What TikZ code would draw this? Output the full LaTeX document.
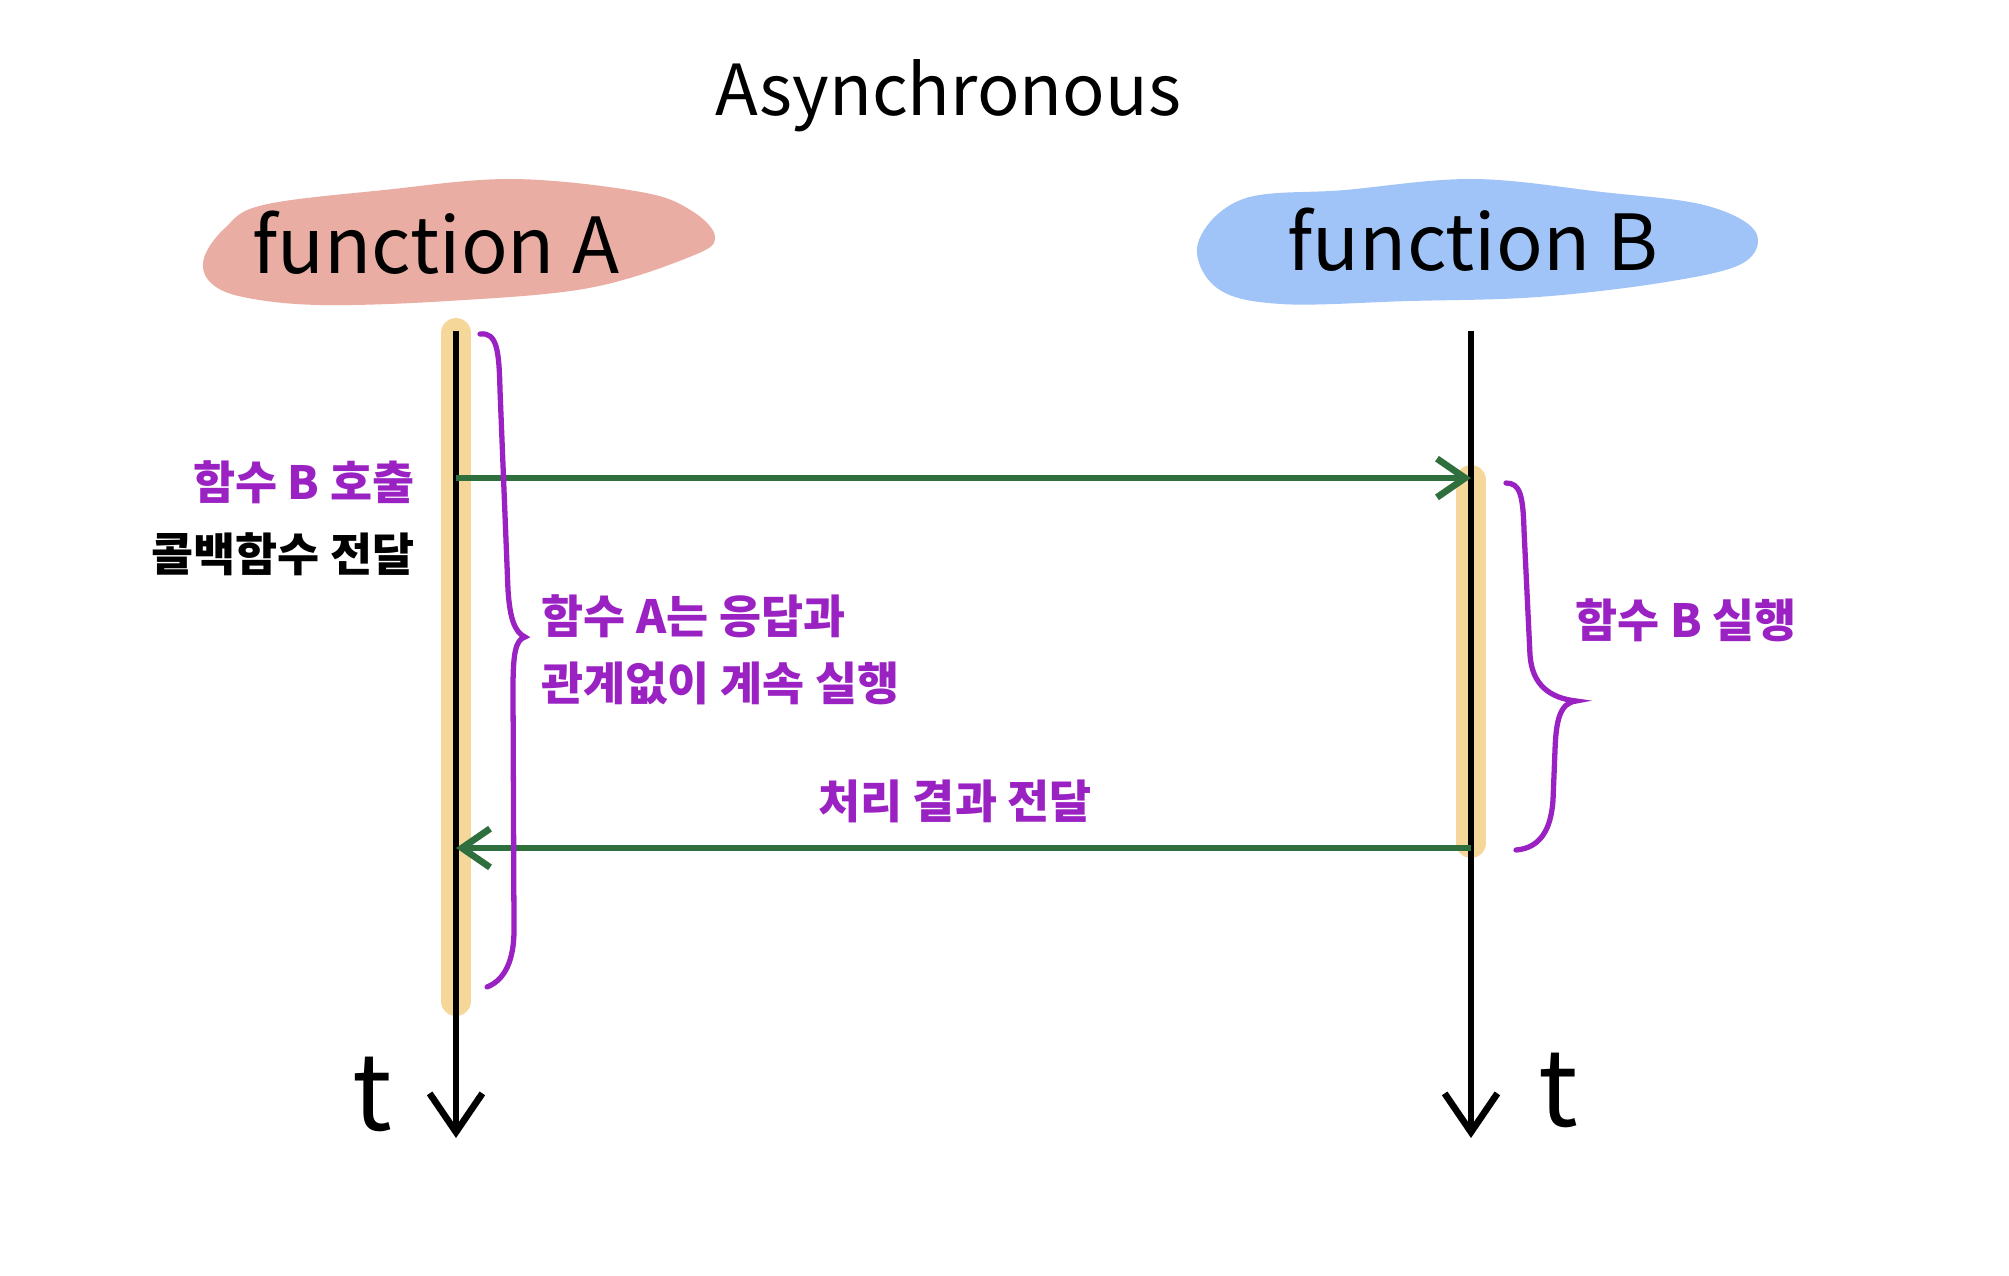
\documentclass[tikz,border=0pt]{standalone}
\usepackage{fontspec}
\setmainfont{Noto Sans CJK KR}
\usetikzlibrary{arrows.meta,positioning}
\definecolor{blobred}{HTML}{EAADA4}
\definecolor{blobblue}{HTML}{A0C4F8}
\definecolor{busyorange}{HTML}{F6D79A}
\definecolor{msggreen}{HTML}{2F6F3E}
\definecolor{notepurple}{HTML}{9A21C2}

\begin{document}
\begin{tikzpicture}[
  x=0.01cm,y=-0.01cm,
  title/.style={font=\fontsize{20}{24}\selectfont},
  head/.style={font=\fontsize{22}{26}\selectfont},
  note/.style={font=\fontsize{13}{19}\selectfont\bfseries,text=notepurple,inner sep=2pt},
  tlabel/.style={font=\fontsize{30}{34}\selectfont},
  life/.style={line width=1.9pt,-{Straight Barb[length=11pt,width=15pt]}},
  busy/.style={line width=8.5pt,busyorange,line cap=round},
  msg/.style={line width=1.9pt,msggreen,-{Straight Barb[length=8pt,width=11pt]}},
  brace/.style={line width=1.5pt,notepurple,line cap=round}
]
\useasboundingbox (0,0) rectangle (2009,1275);

% title
\node[title] (ttl) at (948,96) {Asynchronous};

% marker blobs behind the headers
\fill[blobred] plot[smooth cycle,tension=0.6] coordinates {(204,258) (225,228) (263,205) (384,190) (513,179) (641,192) (692,211) (715,237) (692,256) (589,288) (448,301) (320,305) (243,297) (210,282)};
\fill[blobblue] plot[smooth cycle,tension=0.6] coordinates {(1198,243) (1243,199) (1345,190) (1473,179) (1602,192) (1704,205) (1755,231) (1743,263) (1666,282) (1538,297) (1409,301) (1281,304) (1217,288)};
\node[head] (fa) at (436,243) {function A};
\node[head] (fb) at (1473,240) {function B};

% lifelines
\coordinate (aTop) at (456,331);
\coordinate (aEnd) at (456,1138);
\coordinate (bTop) at (1471,331);
\coordinate (bEnd) at (1471,1138);
\draw[busy] (456,333) -- (456,1001);
\draw[busy] (1471,480) -- (1471,843);
\draw[life] (aTop) -- (aEnd);
\draw[life] (bTop) -- (bEnd);
\node[tlabel,anchor=base] (ta) at (372,1130) {t};
\node[tlabel,anchor=base] (tb) at (1558,1126) {t};

% messages
\coordinate (aCall) at (456,478);
\coordinate (bCall) at (1471,478);
\coordinate (bRet) at (1471,848);
\coordinate (aRet) at (456,848);
\draw[msg] (aCall) -- (bCall);
\draw[msg] (bRet) -- (aRet);

% labels
\node[note,anchor=east] (call) at (422,482) {함수 B 호출};
\node[note,text=black,below=4pt of call.south east,anchor=north east] (cb) {콜백함수 전달};
\node[note,anchor=west,align=left] (cont) at (534,650) {함수 A는 응답과\\관계없이 계속 실행};
\node[note,anchor=west] (run) at (1568,620) {함수 B 실행};
\node[note] (ret) at (955,801) {처리 결과 전달};

% braces
\draw[brace] (480,334) .. controls (497,332) and (499,350) .. (500,390) -- (508,590) .. controls (510,620) and (515,632) .. (525,637) .. controls (515,640) and (513,655) .. (513,690) -- (514,930) .. controls (514,960) and (505,980) .. (487,987);
\draw[brace] (1506,483) .. controls (1520,483) and (1523,495) .. (1524,530) -- (1530,655) .. controls (1532,685) and (1550,698) .. (1576,701) .. controls (1560,703) and (1556,720) .. (1555,750) -- (1553,800) .. controls (1551,830) and (1540,848) .. (1516,850);
\end{tikzpicture}
\end{document}
